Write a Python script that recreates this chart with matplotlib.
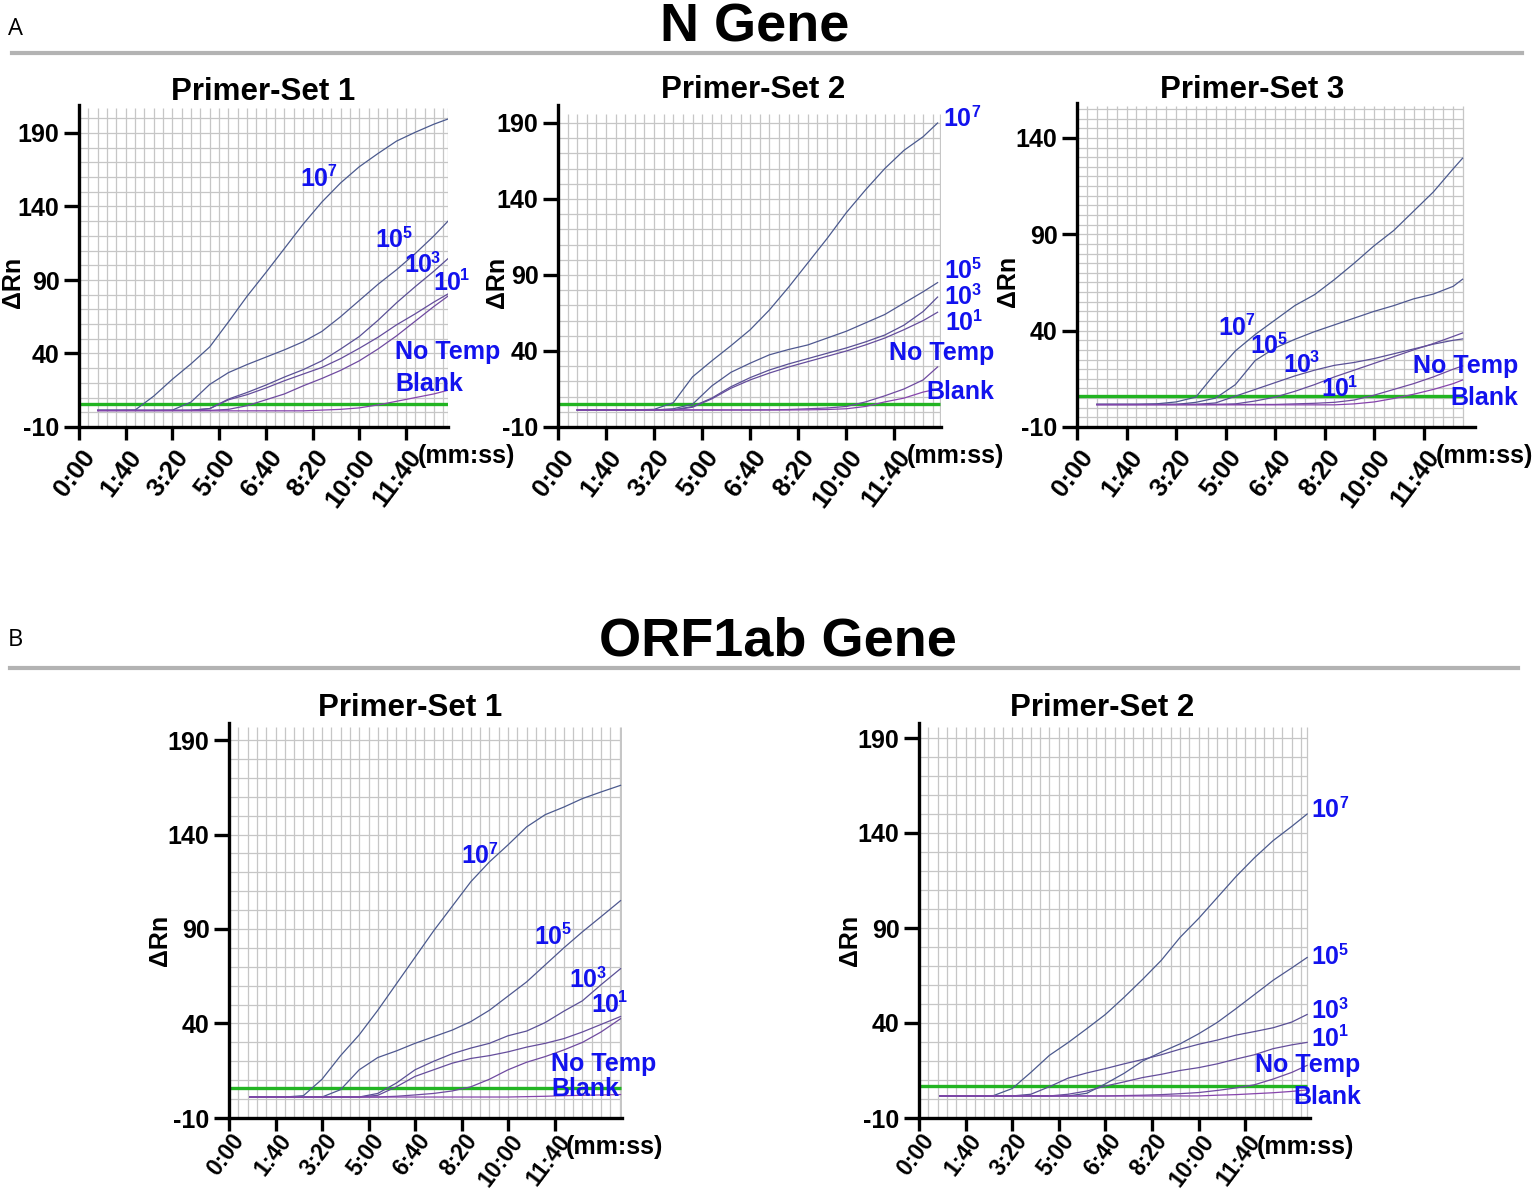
import numpy as np
import matplotlib
matplotlib.use('Agg')
import matplotlib.pyplot as plt
from matplotlib.lines import Line2D
import matplotlib.transforms as mtransforms

plt.rcParams['font.family'] = ['Liberation Sans', 'DejaVu Sans']
plt.rcParams['font.weight'] = 'bold'

# ---------------- data ----------------
series_names = ['10^7', '10^5', '10^3', '10^1', 'No Temp', 'Blank']
series_base = ['10', '10', '10', '10', 'No Temp', 'Blank']
series_sup = ['7', '5', '3', '1', '', '']
tick_seconds = [0, 100, 200, 300, 400, 500, 600, 700]
tick_labels = ['0:00', '1:40', '3:20', '5:00', '6:40', '8:20', '10:00', '11:40']

# N gene, primer-set 1
t_A1 = [40, 80, 120, 160, 200, 240, 280, 320, 360, 400, 440, 480, 520, 560, 600, 640, 680, 720, 760, 790]
A1_e7 = [1.3, 1.3, 1.5, 11, 22.5, 33, 44.5, 61.5, 79, 95, 111.5, 128, 143, 156, 167, 176, 184.5, 190.5, 196, 199.5]
A1_e5 = [1.3, 1.3, 1.3, 1.3, 1.5, 7, 19, 27, 32.5, 37.5, 42.5, 48, 55, 65, 76, 87, 97, 108, 120, 130]
A1_e3 = [1.3, 1.3, 1.3, 1.3, 1.3, 1.4, 2.5, 9, 13.5, 18.5, 24, 29, 35, 43, 51.5, 62.5, 74.5, 85.5, 96, 104.5]
A1_e1 = [1.3, 1.3, 1.3, 1.3, 1.3, 1.4, 2.5, 8.5, 12, 16.5, 21.5, 26, 30.5, 36.5, 43.5, 51, 59.5, 67, 75, 80.5]
A1_nt = [1.3, 1.3, 1.3, 1.3, 1.3, 1.3, 1.3, 2, 4.5, 8.5, 12.5, 18, 23, 28.5, 35, 43, 52, 62, 72, 79]
A1_bl = [1.0, 1.0, 1.0, 1.0, 1.0, 1.0, 1.0, 1.0, 1.0, 1.0, 1.0, 1.0, 1.5, 2, 3, 5, 7.5, 10, 12.5, 15]

# N gene, primer-set 2
t_A2 = [40, 80, 120, 160, 200, 240, 280, 320, 360, 400, 440, 480, 520, 560, 600, 640, 680, 720, 760, 790]
A2_e7 = [1.2, 1.2, 1.2, 1.3, 1.6, 6, 23, 33.5, 43.5, 54, 67, 82, 98, 114, 131, 146, 160, 172, 181, 190]
A2_e5 = [1.2, 1.2, 1.2, 1.2, 1.2, 2, 5, 17, 26, 32, 37.5, 41, 44, 48.5, 53, 58.5, 64, 71.5, 79, 85]
A2_e3 = [1.2, 1.2, 1.2, 1.2, 1.2, 1.2, 3.5, 9, 16.5, 22.5, 27.5, 31.5, 35, 38.5, 42, 46, 50.5, 57, 66, 75.5]
A2_e1 = [1.2, 1.2, 1.2, 1.2, 1.2, 1.2, 3, 8.5, 15.5, 21, 25.5, 29.5, 33, 36.5, 40, 44, 48.5, 54, 60, 65.5]
A2_nt = [1.2, 1.2, 1.2, 1.2, 1.2, 1.2, 1.2, 1.2, 1.2, 1.2, 1.3, 1.5, 2, 2.5, 3.5, 6.5, 10.5, 15, 21, 29.5]
A2_bl = [1.2, 1.2, 1.2, 1.2, 1.2, 1.2, 1.2, 1.2, 1.2, 1.2, 1.2, 1.2, 1.3, 1.5, 2, 3.5, 6.5, 9, 13, 15]

# N gene, primer-set 3
t_A3 = [40, 80, 120, 160, 200, 240, 280, 320, 360, 400, 440, 480, 520, 560, 600, 640, 680, 720, 760, 779]
A3_e7 = [1.7, 1.7, 1.7, 2, 3, 5.5, 18, 29.5, 38, 45.5, 53, 58.7, 66.5, 75, 84, 92, 102, 112, 124, 129.5]
A3_e5 = [1.7, 1.7, 1.7, 1.7, 1.7, 2.8, 5, 12, 24.5, 31, 35.5, 39.5, 43, 46.5, 50, 53, 56.5, 59, 63, 66.7]
A3_e3 = [1.7, 1.7, 1.7, 1.7, 1.7, 1.7, 2.5, 6, 9.5, 13, 16.5, 19.5, 22, 23.5, 25.5, 28, 30.5, 33, 35, 35.7]
A3_e1 = [1.7, 1.7, 1.7, 1.7, 1.7, 1.7, 1.7, 2, 3.5, 5.5, 8.5, 12, 16, 19.5, 23, 26.5, 30, 33.3, 37, 38.8]
A3_nt = [1.7, 1.7, 1.7, 1.7, 1.7, 1.7, 1.7, 1.7, 1.7, 1.7, 2, 2.3, 2.8, 4, 6.5, 9.5, 12.5, 16, 20, 21.7]
A3_bl = [1.5, 1.5, 1.5, 1.5, 1.5, 1.5, 1.5, 1.5, 1.5, 1.5, 1.5, 1.5, 1.5, 2, 3, 4.8, 7, 9.5, 12.5, 14.4]

# ORF1ab gene, primer-set 1
t_B1 = [45, 80, 120, 160, 200, 240, 280, 320, 360, 400, 440, 480, 520, 560, 600, 640, 680, 720, 760, 800, 842]
B1_e7 = [1.1, 1.1, 1.1, 1.8, 10.5, 23, 34, 47, 61, 75, 89, 102, 115, 125.5, 134.5, 144, 150.5, 154.5, 159, 162.5, 166]
B1_e5 = [1.1, 1.1, 1.1, 1.1, 1.1, 5, 15.5, 22, 25.5, 29.5, 33, 36.5, 41, 47, 54.5, 62, 71, 80, 88.5, 96.5, 105]
B1_e3 = [1.1, 1.1, 1.1, 1.1, 1.1, 1.1, 1.1, 3, 8.5, 15.5, 20, 24, 27, 29.5, 33.5, 36, 40.5, 46.5, 52, 60.5, 69]
B1_e1 = [1.1, 1.1, 1.1, 1.1, 1.1, 1.1, 1.1, 2, 6.5, 12, 15.5, 19, 21.5, 23, 25, 27.5, 29.5, 32, 35.5, 39.5, 43.7]
B1_nt = [1.1, 1.1, 1.1, 1.1, 1.1, 1.1, 1.1, 1.1, 1.5, 2.2, 3, 4.3, 6.5, 10.5, 15.5, 19.5, 22.5, 26, 30, 35.5, 42.5]
B1_bl = [1.1, 1.1, 1.1, 1.1, 1.1, 1.1, 1.1, 1.1, 1.1, 1.1, 1.1, 1.1, 1.1, 1.1, 1.1, 1.3, 1.5, 1.8, 2.0, 2.2, 2.4]

# ORF1ab gene, primer-set 2
t_B2 = [45, 80, 120, 160, 200, 240, 280, 320, 360, 400, 440, 480, 520, 560, 600, 640, 680, 720, 760, 800, 833]
B2_e7 = [1.6, 1.6, 1.6, 1.8, 5.5, 14, 23, 29.7, 37, 44.5, 53.5, 63, 73, 85, 95, 106, 117, 127, 136, 143.5, 150]
B2_e5 = [1.6, 1.6, 1.6, 1.6, 1.6, 1.6, 1.6, 1.6, 3, 8, 13.5, 20, 24.7, 29, 34.3, 40.3, 47.5, 55, 62.5, 69, 74.5]
B2_e3 = [1.6, 1.6, 1.6, 1.6, 1.6, 2.5, 6.5, 11, 13.7, 16, 18.5, 20.8, 23.3, 26.2, 28.8, 31, 33.6, 35.5, 37.5, 40.5, 44.5]
B2_e1 = [1.6, 1.6, 1.6, 1.6, 1.6, 1.6, 1.6, 2.5, 4.2, 6.8, 9, 11.3, 13, 15, 16.5, 18.5, 21, 23.3, 26.5, 28.5, 29.8]
B2_nt = [1.6, 1.6, 1.6, 1.6, 1.6, 1.6, 1.6, 1.6, 1.6, 1.6, 1.8, 2, 2.3, 2.8, 3.4, 4.5, 5.8, 7.5, 10.5, 14, 17.7]
B2_bl = [1.6, 1.6, 1.6, 1.6, 1.6, 1.6, 1.6, 1.6, 1.6, 1.6, 1.6, 1.6, 1.6, 1.6, 1.6, 2, 2.3, 2.8, 3.3, 4, 4.8]

thresholds = {'A1': 5.9, 'A2': 5.3, 'A3': 6.2, 'B1': 5.8, 'B2': 6.6}

# ---------------- styles / layout ----------------
W, H = 1536, 1193
line_colors = ['#4b5a8e', '#4f5890', '#5a5096', '#654d9c', '#6f4aa0', '#8644ac']
label_blue = '#1212ee'
grid_color = '#c6c6c6'
green = '#22b422'

panels = [
    dict(key='A1', t=t_A1, ys=[A1_e7, A1_e5, A1_e3, A1_e1, A1_nt, A1_bl],
         x0=79, bottom=427, pps=0.467, ppu=1.47, xmax=790, ymax=209, gx=790, gy=207,
         ystep=10, yticks=[-10, 40, 90, 140, 190], title='Primer-Set 1', title_xy=(263, 100),
         ylab_x=13, xlab_dy=-7.5, tick_fs=18.5,
         lab=[(475, 159), (634, 117), (696, 100), (758, 88), (677, 41), (677, 19.3)]),
    dict(key='A2', t=t_A2, ys=[A2_e7, A2_e5, A2_e3, A2_e1, A2_nt, A2_bl],
         x0=558, bottom=427, pps=0.4805, ppu=1.52, xmax=797, ymax=202, gx=795, gy=196,
         ystep=10, yticks=[-10, 40, 90, 140, 190], title='Primer-Set 2', title_xy=(753, 98),
         ylab_x=497, xlab_dy=-7.5, tick_fs=18.5,
         lab=[(803, 192.6), (805, 92.6), (805, 75.5), (807, 58.4), (689, 38.7), (766, 13)]),
    dict(key='A3', t=t_A3, ys=[A3_e7, A3_e5, A3_e3, A3_e1, A3_nt, A3_bl],
         x0=1077, bottom=427, pps=0.495, ppu=1.927, xmax=804, ymax=158, gx=779, gy=156.5,
         ystep=5, yticks=[-10, 40, 90, 140], title='Primer-Set 3', title_xy=(1252, 98),
         ylab_x=1008, xlab_dy=-7.5, tick_fs=18.5,
         lab=[(285, 41.4), (349.5, 32), (416, 22.2), (493, 9.7), (679, 21.7), (753.5, 5)]),
    dict(key='B1', t=t_B1, ys=[B1_e7, B1_e5, B1_e3, B1_e1, B1_nt, B1_bl],
         x0=229, bottom=1118, pps=0.465, ppu=1.89, xmax=845, ymax=199, gx=842, gy=197,
         ystep=10, yticks=[-10, 40, 90, 140, 190], title='Primer-Set 1', title_xy=(410, 716),
         ylab_x=160, xlab_dy=-2.5, tick_fs=16.5,
         lab=[(499, 128.6), (656, 85.8), (733, 63), (778.5, 49.8), (692.5, 18.6), (692.5, 5.3)]),
    dict(key='B2', t=t_B2, ys=[B2_e7, B2_e5, B2_e3, B2_e1, B2_nt, B2_bl],
         x0=919, bottom=1118, pps=0.466, ppu=1.9, xmax=839, ymax=198, gx=833, gy=196,
         ystep=10, yticks=[-10, 40, 90, 140, 190], title='Primer-Set 2', title_xy=(1102, 716),
         ylab_x=850, xlab_dy=-2.5, tick_fs=16.5,
         lab=[(843, 152), (843, 74.7), (843, 46.3), (843, 31.6), (721, 17.9), (803, 1)]),
]

fig = plt.figure(figsize=(W / 100, H / 100), dpi=100)
fig.patch.set_facecolor('white')

for p in panels:
    w_px = p['xmax'] * p['pps']
    h_px = (p['ymax'] + 10) * p['ppu']
    ax = fig.add_axes([p['x0'] / W, 1 - p['bottom'] / H, w_px / W, h_px / H])
    ax.set_xlim(0, p['xmax'])
    ax.set_ylim(-10, p['ymax'])
    ax.patch.set_alpha(0)

    # grid
    vx = np.arange(20, p['gx'] + 0.1, 20)
    ax.vlines(vx, -10, p['gy'], color=grid_color, lw=0.9, zorder=0)
    ax.vlines([p['gx']], -10, p['gy'], color=grid_color, lw=0.9, zorder=0)
    hy = np.arange(-10 + p['ystep'], p['gy'] + 0.01, p['ystep'])
    ax.hlines(hy, 0, p['gx'], color=grid_color, lw=0.9, zorder=0)

    # threshold
    ax.hlines(thresholds[p['key']], 0, p['gx'], color=green, lw=2.4, zorder=3)

    # curves
    for y, c in zip(p['ys'], line_colors):
        ax.plot(p['t'], y, color=c, lw=0.9, zorder=4)

    # labels on curves
    for (lx, ly), base, sup in zip(p['lab'], series_base, series_sup):
        tb = ax.text(lx, ly, base, color=label_blue, fontsize=18, fontweight='bold',
                     ha='left', va='center', clip_on=False, zorder=6)
        if sup:
            ax.annotate(sup, xy=(1, 1), xycoords=tb, xytext=(-0.6, 1.8),
                        textcoords='offset points', ha='left', va='top',
                        fontsize=11.5, fontweight='bold', color=label_blue,
                        annotation_clip=False, zorder=6)

    # spines and ticks
    for s in ['top', 'right']:
        ax.spines[s].set_visible(False)
    for s in ['left', 'bottom']:
        ax.spines[s].set_linewidth(2.4)
        ax.spines[s].set_color('black')
        ax.spines[s].set_zorder(5)
    ax.set_yticks(p['yticks'])
    ax.set_yticklabels([str(v) for v in p['yticks']], fontsize=18, fontweight='bold')
    ax.set_xticks(tick_seconds)
    ax.set_xticklabels(tick_labels, rotation=53, ha='right', va='center',
                       rotation_mode='anchor', fontsize=p['tick_fs'], fontweight='bold')
    ax.tick_params(axis='y', direction='out', length=11, width=2.4, pad=3, color='black')
    ax.tick_params(axis='x', direction='out', length=9, width=2.4, pad=2, color='black')
    off = mtransforms.ScaledTranslation(8 / 72, p['xlab_dy'] / 72, fig.dpi_scale_trans)
    for lab in ax.get_xticklabels():
        lab.set_transform(lab.get_transform() + off)

    ax.annotate('(mm:ss)', xy=(725, -10), xycoords='data', xytext=(0, -21),
                textcoords='offset points', ha='left', va='center', fontsize=18,
                fontweight='bold', annotation_clip=False)

    # y label
    ax.set_ylabel('\u0394Rn', fontsize=18, fontweight='bold')
    ax.yaxis.label.set_va('center')
    ax.yaxis.set_label_coords((p['ylab_x'] - p['x0']) / w_px, 0.45)

    fig.text(p['title_xy'][0] / W, 1 - p['title_xy'][1] / H, p['title'], fontsize=22.5,
             fontweight='bold', ha='center', va='baseline')

# section headers
fig.text(755 / W, 1 - 42 / H, 'N Gene', fontsize=39, fontweight='bold', ha='center', va='baseline')
fig.text(778 / W, 1 - 655 / H, 'ORF1ab Gene', fontsize=39, fontweight='bold', ha='center', va='baseline')
fig.add_artist(Line2D([12 / W, 1522 / W], [1 - 53 / H, 1 - 53 / H], color='#b3b3b3', lw=3))
fig.add_artist(Line2D([10 / W, 1518 / W], [1 - 668 / H, 1 - 668 / H], color='#b3b3b3', lw=3))
fig.text(8 / W, 1 - 35 / H, 'A', fontsize=17, fontweight='normal', family=['Open Sans', 'DejaVu Sans'],
         ha='left', va='baseline')
fig.text(8 / W, 1 - 646 / H, 'B', fontsize=17, fontweight='normal', family=['Open Sans', 'DejaVu Sans'],
         ha='left', va='baseline')

fig.savefig('out.png', dpi=100, facecolor='white')
